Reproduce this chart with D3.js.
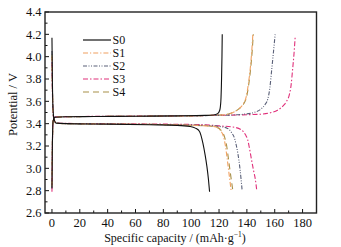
<!DOCTYPE html>
<html><head><meta charset="utf-8">
<script src="https://cdn.jsdelivr.net/npm/d3@7/dist/d3.min.js"></script>
<style>body{margin:0;background:#fff}svg{display:block}</style>
</head><body><svg id="c" width="341" height="247" font-family="'Liberation Serif', 'Times New Roman', Tinos, 'DejaVu Serif', serif"></svg>
<script>
const seriesNames = ["S0","S1","S2","S3","S4"];
const seriesColors = ["#111111","#f0a060","#5a6078","#e0307a","#a89048"];
const seriesDash = ["", "5,2,1.2,2", "4,1.5,1,1.5,1,1.5", "5,2,1.5,2", "6,4"];
const xTicks = [0,20,40,60,80,100,120,140,160,180];
const yTicks = [2.6,2.8,3.0,3.2,3.4,3.6,3.8,4.0,4.2,4.4];

// charge curves [capacity, potential]
const chargeS0 = [[0,2.82],[0.3,3.2],[0.8,3.42],[2,3.458],[10,3.462],[30,3.464],[60,3.467],[90,3.47],[110,3.474],[116,3.478],[119,3.49],[120.5,3.52],[121.3,3.6],[121.8,3.8],[122.1,4.0],[122.3,4.2]];
const chargeS1 = [[0,2.84],[0.3,3.2],[0.8,3.42],[2,3.458],[10,3.462],[40,3.465],[80,3.468],[100,3.47],[115,3.475],[124,3.48],[130,3.5],[134,3.53],[137.5,3.58],[139.5,3.64],[141,3.75],[142.3,3.88],[143.5,4.05],[144.3,4.2]];
const chargeS2 = [[0,2.83],[0.3,3.2],[0.8,3.42],[2,3.458],[10,3.462],[40,3.465],[80,3.468],[110,3.472],[130,3.478],[138,3.485],[145,3.5],[150,3.53],[153,3.57],[155,3.62],[156.5,3.72],[157.8,3.88],[159,4.03],[160.3,4.2]];
const chargeS3 = [[0,2.79],[0.3,3.2],[0.8,3.42],[2,3.46],[10,3.463],[40,3.466],[80,3.469],[110,3.473],[140,3.48],[150,3.485],[156,3.495],[162,3.52],[166,3.56],[168.5,3.6],[170.5,3.66],[171.8,3.75],[172.8,3.88],[173.8,4.02],[174.7,4.18]];
const chargeS4 = [[0,2.85],[0.3,3.2],[0.8,3.42],[2,3.458],[10,3.462],[40,3.465],[80,3.468],[100,3.47],[115,3.475],[124,3.48],[130,3.5],[134,3.53],[137.8,3.58],[139.8,3.64],[141.3,3.75],[142.6,3.88],[143.8,4.05],[144.6,4.2]];

// discharge curves
const dischS0 = [[0,4.17],[0.3,3.8],[0.7,3.55],[1.5,3.44],[3,3.405],[10,3.4],[40,3.396],[70,3.39],[90,3.385],[99,3.375],[103,3.36],[106,3.33],[108.4,3.225],[110,3.12],[111.3,3.015],[112.4,2.9],[113.2,2.79]];
const dischS1 = [[0,4.0],[0.3,3.75],[0.7,3.52],[1.5,3.44],[3,3.405],[10,3.4],[40,3.397],[80,3.392],[100,3.386],[112,3.38],[118,3.37],[121,3.34],[123.3,3.28],[124.6,3.2],[125.7,3.1],[127,2.97],[128.7,2.8]];
const dischS2 = [[0,4.05],[0.3,3.75],[0.7,3.52],[1.5,3.44],[3,3.405],[10,3.4],[40,3.397],[80,3.392],[110,3.385],[120,3.375],[125.7,3.36],[129,3.32],[131.1,3.27],[132.5,3.2],[133.5,3.135],[135,3.0],[136.6,2.8]];
const dischS3 = [[0,3.95],[0.3,3.7],[0.7,3.5],[1.5,3.44],[3,3.408],[10,3.403],[40,3.4],[80,3.396],[110,3.39],[120,3.38],[130,3.37],[136,3.345],[139,3.3],[140.6,3.255],[142,3.17],[143,3.1],[144.8,2.98],[146.1,2.9],[147.1,2.8]];
const dischS4 = [[0,4.02],[0.3,3.75],[0.7,3.52],[1.5,3.44],[3,3.405],[10,3.4],[40,3.397],[80,3.392],[100,3.386],[112,3.38],[118,3.37],[121.5,3.34],[124,3.28],[125.5,3.2],[126.6,3.1],[128,2.97],[129.9,2.8]];

const charges = [chargeS0,chargeS1,chargeS2,chargeS3,chargeS4];
const discharges = [dischS0,dischS1,dischS2,dischS3,dischS4];

const svg = d3.select("#c");
const L=45, R=316.5, T=12, B=213;
const x = d3.scaleLinear().domain([-5,190]).range([L,R]);
const y = d3.scaleLinear().domain([2.6,4.4]).range([B,T]);

const xMinor = d3.range(10,190,20);
const yMinor = d3.range(2.7,4.4,0.2);
const g = svg.append("g");
g.selectAll(".xmj").data(xTicks).join("line").attr("x1",d=>x(d)).attr("x2",d=>x(d)).attr("y1",B).attr("y2",B-4).attr("stroke","#111");
g.selectAll(".xmn").data(xMinor).join("line").attr("x1",d=>x(d)).attr("x2",d=>x(d)).attr("y1",B).attr("y2",B-2.5).attr("stroke","#111");
g.selectAll(".ymj").data(yTicks).join("line").attr("x1",L).attr("x2",L+4).attr("y1",d=>y(d)).attr("y2",d=>y(d)).attr("stroke","#111");
g.selectAll(".ymn").data(yMinor).join("line").attr("x1",L).attr("x2",L+2.5).attr("y1",d=>y(d)).attr("y2",d=>y(d)).attr("stroke","#111");

g.selectAll(".xl").data(xTicks).join("text").attr("x",d=>x(d)).attr("y",226.5).attr("text-anchor","middle").attr("font-size",12.5).attr("fill","#111").text(d=>d);
g.selectAll(".yl").data(yTicks).join("text").attr("x",41.5).attr("y",d=>y(d)+4.3).attr("text-anchor","end").attr("font-size",12.5).attr("fill","#111").text(d=>d.toFixed(1));

const line = d3.line().x(d=>x(d[0])).y(d=>y(d[1])).curve(d3.curveMonotoneX);
const order = [4,3,2,1,0];
order.forEach(i=>{
  [charges[i],discharges[i]].forEach(data=>{
    svg.append("path").attr("d",line(data)).attr("fill","none").attr("stroke",seriesColors[i]).attr("stroke-width",1.1).attr("stroke-dasharray",seriesDash[i]||null);
  });
});

svg.append("rect").attr("x",L).attr("y",T).attr("width",R-L).attr("height",B-T).attr("fill","none").attr("stroke","#222").attr("stroke-width",1.4);

const lg = svg.append("g");
seriesNames.forEach((n,i)=>{
  const yy = 40 + i*13;
  lg.append("line").attr("x1",83).attr("x2",111).attr("y1",yy).attr("y2",yy).attr("stroke",seriesColors[i]).attr("stroke-width",1.2).attr("stroke-dasharray",seriesDash[i]||null);
  lg.append("text").attr("x",112.5).attr("y",yy+4.3).attr("font-size",12).attr("fill","#111").text(n);
});

svg.append("text").attr("x",175).attr("y",241.5).attr("text-anchor","middle").attr("font-size",12).attr("fill","#111")
  .html('Specific capacity / (mAh·g<tspan dy="-4.5" font-size="7.5">−1</tspan><tspan dy="4.5">)</tspan>');
svg.append("text").attr("transform","translate(17,104.5) rotate(-90)").attr("text-anchor","middle").attr("font-size",12.5).attr("fill","#111").text("Potential / V");
</script></body></html>
